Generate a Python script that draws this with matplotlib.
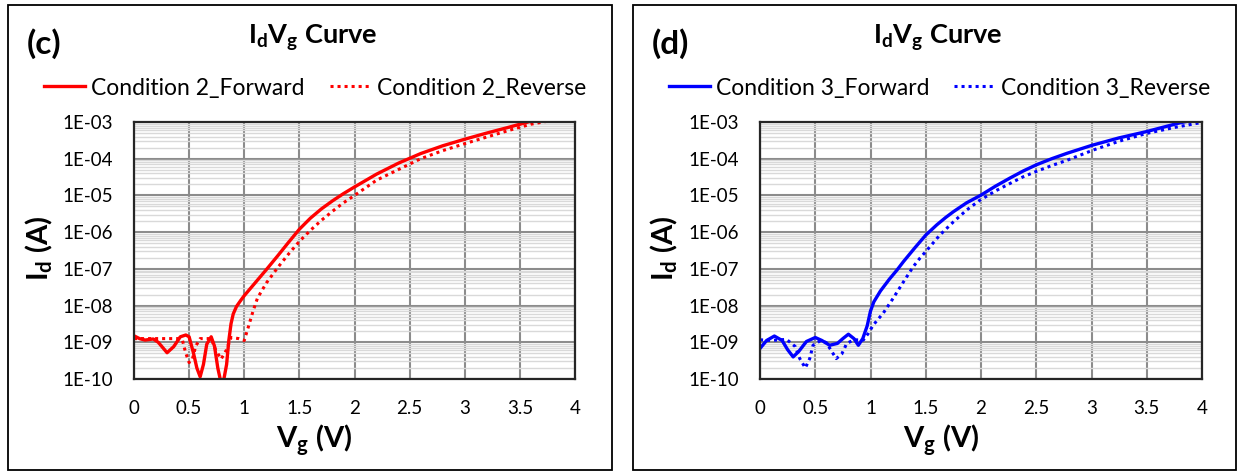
import matplotlib
matplotlib.use("Agg")
import matplotlib.pyplot as plt
import numpy as np
from matplotlib.patches import Rectangle
from matplotlib.ticker import FixedLocator, LogLocator, NullFormatter, FuncFormatter

# ---------------- data ----------------
c2_fwd_v = [0, 0.05, 0.1, 0.175, 0.22, 0.3, 0.36, 0.42, 0.47, 0.5, 0.54, 0.57, 0.6, 0.63,
            0.66, 0.7, 0.73, 0.76, 0.8, 0.84, 0.86, 0.88, 0.9, 0.93, 0.97, 1.0, 1.1, 1.2,
            1.3, 1.4, 1.5, 1.6, 1.7, 1.8, 1.9, 2.0, 2.2, 2.4, 2.6, 2.8, 3.0, 3.2, 3.4, 3.6, 3.8]
c2_fwd_i = [1.5e-9, 1.26e-9, 1.15e-9, 1.23e-9, 1.0e-9, 5.2e-10, 7.6e-10, 1.41e-9, 1.58e-9, 1.41e-9,
            5.0e-10, 2.0e-10, 1.15e-10, 2.5e-10, 8.9e-10, 1.41e-9, 7.9e-10, 2.0e-10, 5.6e-11,
            2.5e-10, 1.12e-9, 3.2e-9, 5.9e-9, 9.5e-9, 1.41e-8, 1.86e-8, 4.2e-8, 9.5e-8,
            2.2e-7, 5.2e-7, 1.2e-6, 2.4e-6, 4.3e-6, 7.1e-6, 1.12e-5, 1.7e-5, 3.8e-5, 7.6e-5,
            1.38e-4, 2.25e-4, 3.4e-4, 5.0e-4, 7.2e-4, 1.05e-3, 1.5e-3]

c2_rev_v = [0, 0.2, 0.4, 0.44, 0.47, 0.5, 0.53, 0.56, 0.6, 0.7, 0.74, 0.79, 0.84, 0.88,
            0.95, 1.0, 1.04, 1.08, 1.12, 1.2, 1.3, 1.4, 1.5, 1.6, 1.7, 1.8, 1.9, 2.0, 2.2,
            2.4, 2.6, 2.8, 3.0, 3.2, 3.4, 3.6, 3.8, 4.0]
c2_rev_i = [1.26e-9, 1.26e-9, 1.26e-9, 1.12e-9, 5.0e-10, 2.8e-10, 3.5e-10, 7.9e-10, 1.26e-9,
            1.26e-9, 6.3e-10, 3.5e-10, 6.3e-10, 1.35e-9, 1.26e-9, 1.12e-9, 2.8e-9, 7.1e-9,
            1.6e-8, 4.1e-8, 1.05e-7, 2.5e-7, 5.6e-7, 1.12e-6, 2.1e-6, 3.7e-6, 6.3e-6, 1.0e-5,
            2.6e-5, 5.1e-5, 1.0e-4, 1.66e-4, 2.57e-4, 3.9e-4, 5.9e-4, 8.7e-4, 1.12e-3, 1.45e-3]

c3_fwd_v = [0, 0.06, 0.13, 0.2, 0.25, 0.3, 0.35, 0.42, 0.5, 0.56, 0.63, 0.7, 0.75, 0.8,
            0.85, 0.89, 0.93, 0.97, 1.0, 1.03, 1.09, 1.17, 1.24, 1.3, 1.4, 1.5, 1.6, 1.68,
            1.75, 1.87, 2.0, 2.13, 2.26, 2.38, 2.5, 2.64, 2.78, 3.0, 3.25, 3.5, 3.8, 4.0]
c3_fwd_i = [6.8e-10, 1.12e-9, 1.48e-9, 1.12e-9, 6.3e-10, 4.0e-10, 5.6e-10, 1.05e-9, 1.35e-9,
            1.12e-9, 8.3e-10, 9.3e-10, 1.26e-9, 1.66e-9, 1.26e-9, 8.3e-10, 1.26e-9, 2.8e-9,
            7.1e-9, 1.26e-8, 2.5e-8, 5.2e-8, 9.3e-8, 1.6e-7, 3.7e-7, 8.3e-7, 1.58e-6, 2.5e-6,
            3.6e-6, 6.3e-6, 1.02e-5, 1.78e-5, 2.95e-5, 4.6e-5, 6.8e-5, 1.0e-4, 1.41e-4,
            2.3e-4, 3.7e-4, 5.5e-4, 9.5e-4, 1.26e-3]

c3_rev_v = [0, 0.1, 0.24, 0.32, 0.36, 0.41, 0.45, 0.48, 0.55, 0.6, 0.66, 0.69, 0.74, 0.785,
            0.85, 0.935, 0.98, 1.025, 1.07, 1.115, 1.2, 1.3, 1.387, 1.45, 1.51, 1.63, 1.75,
            1.87, 1.99, 2.13, 2.26, 2.38, 2.5, 2.64, 2.78, 2.9, 3.02, 3.25, 3.5, 3.75, 3.98]
c3_rev_i = [1.17e-9, 1.12e-9, 1.2e-9, 7.6e-10, 3.6e-10, 2.0e-10, 3.6e-10, 8.3e-10, 1.12e-9,
            9.8e-10, 5.0e-10, 3.6e-10, 4.8e-10, 9.3e-10, 1.17e-9, 1.15e-9, 1.74e-9, 2.95e-9,
            4.3e-9, 6.2e-9, 1.5e-8, 4.5e-8, 1.15e-7, 2.0e-7, 3.2e-7, 8.5e-7, 1.9e-6,
            4.0e-6, 7.4e-6, 1.32e-5, 2.1e-5, 3.2e-5, 4.5e-5, 6.5e-5, 9.1e-5, 1.26e-4,
            1.74e-4, 3.0e-4, 4.9e-4, 7.1e-4, 9.5e-4]

x_ticks = [0, 0.5, 1, 1.5, 2, 2.5, 3, 3.5, 4]
y_ticks = [1e-10, 1e-9, 1e-8, 1e-7, 1e-6, 1e-5, 1e-4, 1e-3]

panels = [
    dict(tag="(c)", color="#FF0000", fwd=(c2_fwd_v, c2_fwd_i), rev=(c2_rev_v, c2_rev_i),
         names=("Condition 2_Forward", "Condition 2_Reverse")),
    dict(tag="(d)", color="#0000FF", fwd=(c3_fwd_v, c3_fwd_i), rev=(c3_rev_v, c3_rev_i),
         names=("Condition 3_Forward", "Condition 3_Reverse")),
]

# ---------------- style ----------------
FONT = "Lato"
plt.rcParams["font.family"] = [FONT, "DejaVu Sans"]
plt.rcParams["mathtext.fontset"] = "custom"
plt.rcParams["mathtext.rm"] = FONT
plt.rcParams["mathtext.it"] = FONT
plt.rcParams["mathtext.bf"] = FONT + ":bold"

W, H = 1241, 475
fig = plt.figure(figsize=(W / 100, H / 100), dpi=100)

def fx(px):
    return px / W

def fy(py):
    return 1 - py / H

frames = [(8, 5, 612, 470), (633, 5, 1236, 470)]
axes_px = [(134, 122, 575, 379), (760, 122, 1202, 379)]

def fmt(v, pos):
    e = int(round(np.log10(v)))
    return "1E-%02d" % (-e)

for p, fr, ap in zip(panels, frames, axes_px):
    x0, y0, x1, y1 = fr
    fig.patches.append(Rectangle((fx(x0), fy(y1)), fx(x1 - x0), (y1 - y0) / H,
                                 transform=fig.transFigure, fill=False,
                                 edgecolor="black", linewidth=1.3, zorder=0))
    ax = fig.add_axes([fx(ap[0]), fy(ap[3]), fx(ap[2] - ap[0]), (ap[3] - ap[1]) / H])
    ax.set_yscale("log")
    ax.set_xlim(0, 4)
    ax.set_ylim(1e-10, 1e-3)
    ax.xaxis.set_major_locator(FixedLocator(x_ticks))
    ax.set_xticklabels([("%g" % t) for t in x_ticks])
    ax.yaxis.set_major_locator(FixedLocator(y_ticks))
    ax.yaxis.set_major_formatter(FuncFormatter(fmt))
    ax.yaxis.set_minor_locator(LogLocator(base=10, subs=np.arange(2, 10), numticks=20))
    ax.yaxis.set_minor_formatter(NullFormatter())
    ax.tick_params(axis="both", which="both", length=0, labelsize=13.5, colors="black")
    ax.tick_params(axis="y", pad=15)
    ax.tick_params(axis="x", pad=15)
    ax.grid(True, which="minor", axis="y", color="#D9D9D9", linewidth=1.0)
    ax.grid(True, which="major", axis="both", color="#8C8C8C", linewidth=1.5)
    ax.set_axisbelow(True)
    for s in ax.spines.values():
        s.set_color("#262626")
        s.set_linewidth(1.6)

    c = p["color"]
    l1, = ax.plot(p["fwd"][0], p["fwd"][1], color=c, lw=2.4, solid_joinstyle="round",
                  label=p["names"][0], clip_on=True)
    l2, = ax.plot(p["rev"][0], p["rev"][1], color=c, lw=2.2, linestyle=(0, (1, 1.3)),
                  dash_capstyle="butt", label=p["names"][1], clip_on=True)

    cx = (x0 + x1) / 2
    fig.text(fx(cx + 3), fy(38), r"$\mathbf{I_d V_g}$ Curve", ha="center", va="center",
             fontsize=19.5, fontweight="bold")
    fig.text(fx(x0 + 19), fy(44), p["tag"], ha="left", va="center",
             fontsize=24, fontweight="bold")
    fig.legend(handles=[l1, l2], loc="center", bbox_to_anchor=(fx(cx + 5), fy(88)),
               ncol=2, frameon=False, fontsize=16.5, handlelength=1.8, handletextpad=0.25,
               columnspacing=1.1, borderpad=0)
    fig.text(fx(x0 + 31), fy(248), r"$\mathbf{I_d}$ (A)", rotation=90, ha="center",
             va="center", fontsize=21, fontweight="bold")
    fig.text(fx((ap[0] + ap[2]) / 2 - 40), fy(440), r"$\mathbf{V_g}$ (V)", ha="center",
             va="center", fontsize=21, fontweight="bold")

fig.savefig("out.png", dpi=100)
